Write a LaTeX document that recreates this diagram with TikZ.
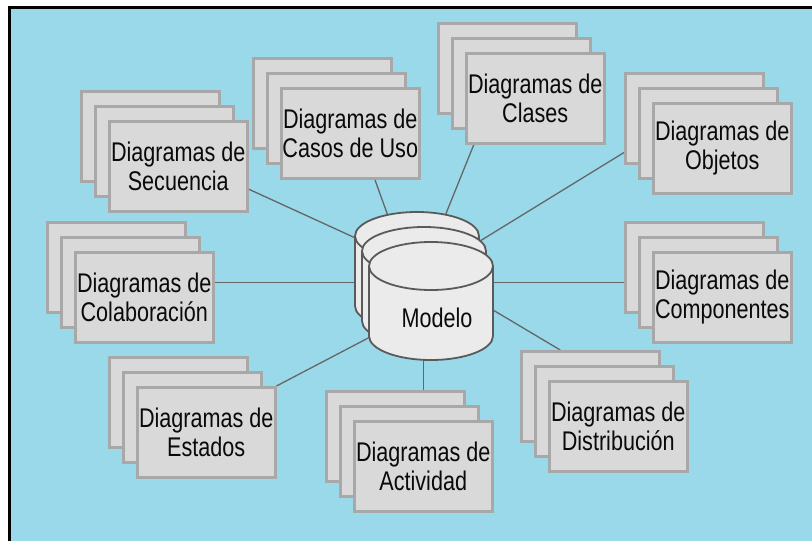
\documentclass[tikz,border=0pt]{standalone}
\usepackage{fontspec}
\setmainfont{Liberation Sans}[FakeStretch=0.8]
\usepackage{tikz}
\pgfdeclarelayer{fondo}
\pgfdeclarelayer{lineas}
\pgfsetlayers{fondo,lineas,main}
\definecolor{celeste}{HTML}{99D9EA}
\definecolor{griscaja}{HTML}{D9D9D9}
\definecolor{bordecaja}{HTML}{A8A8A8}
\definecolor{griscil}{HTML}{EBEBEB}
\definecolor{bordecil}{HTML}{5A5A5A}
\definecolor{gristexto}{HTML}{0A0A0A}
\tikzset{caja/.style={rectangle, fill=griscaja, draw=bordecaja, line width=2.5pt, minimum width=138pt, minimum height=90pt, inner sep=0pt, align=center, text=gristexto, font=\fontsize{27}{29}\selectfont}}
\tikzset{linea/.style={line width=1.3pt, gray!80!black}}
\tikzset{cil/.style={fill=griscil, draw=bordecil, line width=1.8pt}}
\tikzset{texto/.style={inner sep=0pt, text=gristexto, font=\fontsize{27}{29}\selectfont}}
\newcommand\pila[4]{%
\node[caja, anchor=north west] (#1c) at (#2-28,#3-30) {};
\node[caja, anchor=north west] (#1b) at (#2-14,#3-15) {};
\node[caja, anchor=north west] (#1) at (#2,#3) {#4};}
\newcommand\cilindro[2]{%
\filldraw[cil] (#1,#2+70) ellipse[x radius=62pt, y radius=24pt];
\fill[griscil] (#1-62,#2) rectangle (#1+62,#2+70);
\draw[cil, fill=none] (#1-62,#2) -- (#1-62,#2+70) (#1+62,#2) -- (#1+62,#2+70);
\filldraw[cil] (#1,#2) ellipse[x radius=62pt, y radius=24pt];}

\begin{document}
\begin{tikzpicture}[x=1pt, y=-1pt]
\useasboundingbox (0,0) rectangle (812,541);
\begin{pgfonlayer}{fondo}
\fill[white] (0,0) rectangle (812,541);
\fill[black] (8,6) rectangle (812,541);
\fill[celeste] (11,9) rectangle (812,541);
\end{pgfonlayer}
\pila{sec}{108}{120}{Diagramas de\\Secuencia}
\pila{cas}{280}{87}{Diagramas de\\Casos de Uso}
\pila{cla}{465}{52}{Diagramas de\\Clases}
\pila{obj}{652}{102}{Diagramas de\\Objetos}
\pila{col}{74}{251}{Diagramas de\\Colaboración}
\pila{com}{652}{251}{Diagramas de\\Componentes}
\pila{est}{136}{386}{Diagramas de\\Estados}
\pila{act}{353}{420}{Diagramas de\\Actividad}
\pila{dis}{548}{380}{Diagramas de\\Distribución}
\cilindro{417}{236}
\cilindro{424}{251}
\cilindro{431}{266}
\node[texto] (modelo) at (437,318) {Modelo};
\coordinate (m1) at (362,241);
\coordinate (m2) at (388,216);
\coordinate (m3) at (445,216);
\coordinate (m4) at (480,241);
\coordinate (m7) at (372,336);
\coordinate (m9) at (488,307);
\begin{pgfonlayer}{lineas}
\draw[linea] (sec.-18) -- (m1);
\draw[linea] (cas.-62) -- (m2);
\draw[linea] (cla.217) -- (m3);
\draw[linea] (objc.206) -- (m4);
\draw[linea] (col.12) -- (col.12 -| comc.west);
\draw[linea] (est.north east) -- (m7);
\draw[linea] (act) -- (act |- modelo);
\draw[linea] (disc.123) -- (m9);
\end{pgfonlayer}
\end{tikzpicture}
\end{document}
